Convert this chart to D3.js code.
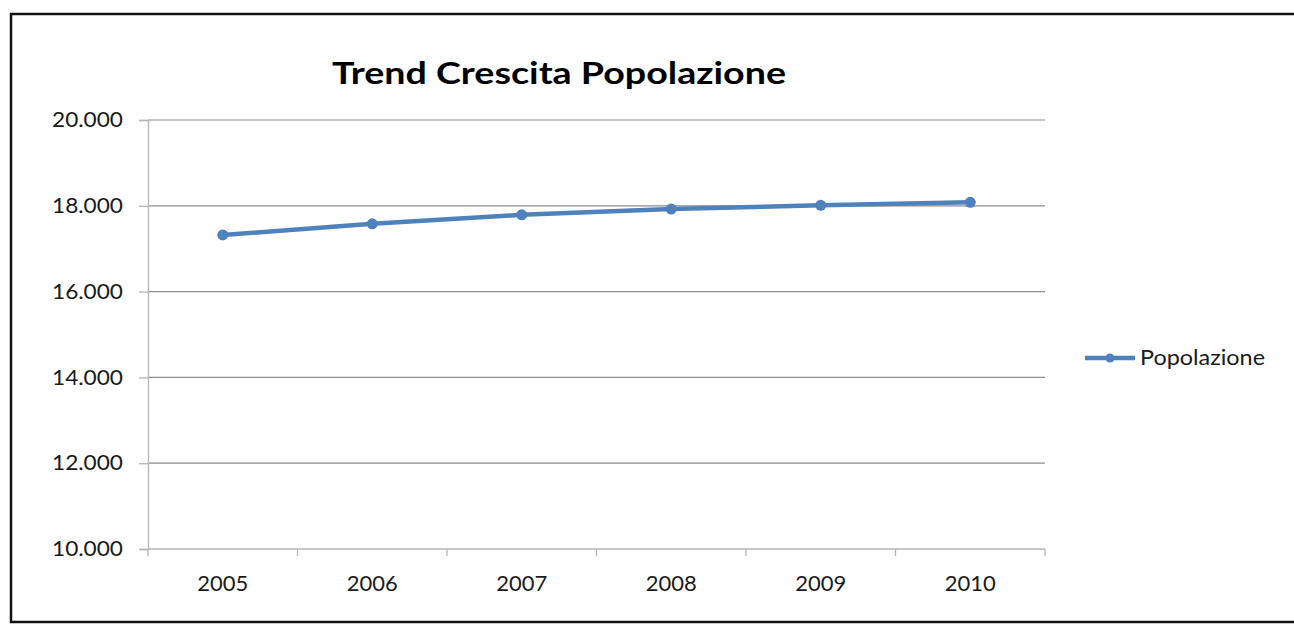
<!DOCTYPE html>
<html>
<head>
<meta charset="utf-8">
<script src="https://cdn.jsdelivr.net/npm/d3@7"></script>
<style>
  html, body { margin: 0; padding: 0; background: #fff; }
  svg { display: block; }
  text { font-family: Lato, "Open Sans", sans-serif; }
</style>
</head>
<body>
<svg id="chart" width="1294" height="624"></svg>
<script>
// Population by year
const years = ["2005", "2006", "2007", "2008", "2009", "2010"];
const population = [17320, 17580, 17790, 17925, 18010, 18080];
const yTicks = [10000, 12000, 14000, 16000, 18000, 20000];
const seriesName = "Popolazione";
const titleText = "Trend Crescita Popolazione";

const svg = d3.select("#chart");
const W = 1294, H = 624;
const plot = { left: 148, right: 1045, top: 120, bottom: 549 };
const lineColor = "#4F81BD";

// outer frame
svg.append("rect")
  .attr("x", 11).attr("y", 14)
  .attr("width", W + 10).attr("height", 608)
  .attr("fill", "#fff").attr("stroke", "#111").attr("stroke-width", 2.5);

const x = d3.scaleBand().domain(years).range([plot.left, plot.right]).paddingInner(0).paddingOuter(0);
const y = d3.scaleLinear().domain([10000, 20000]).range([plot.bottom, plot.top]);

const fmt = v => d3.format(",")(v).replace(/,/g, ".");

// horizontal gridlines
svg.append("g")
  .selectAll("line")
  .data(yTicks.filter(t => t !== 10000))
  .join("line")
  .attr("x1", plot.left).attr("x2", plot.right)
  .attr("y1", d => y(d)).attr("y2", d => y(d))
  .attr("stroke", "#8c8c8c").attr("stroke-width", 1.2);

// y axis
const yAxis = svg.append("g")
  .attr("transform", `translate(${plot.left},0)`)
  .call(d3.axisLeft(y).tickValues(yTicks).tickFormat(fmt).tickSize(9).tickPadding(16));
yAxis.select(".domain").attr("stroke", "#b5b5b5").attr("stroke-width", 1.3);
yAxis.selectAll(".tick line").attr("stroke", "#b5b5b5").attr("stroke-width", 1.3);
yAxis.selectAll(".tick text")
  .attr("fill", "#1a1a1a").style("font-size", "21px")
  .attr("textLength", 71).attr("lengthAdjust", "spacingAndGlyphs");

// x axis with tick marks at band edges
const xAxis = svg.append("g")
  .attr("transform", `translate(0,${plot.bottom})`);
xAxis.append("line")
  .attr("x1", plot.left).attr("x2", plot.right)
  .attr("stroke", "#b5b5b5").attr("stroke-width", 1.3);
const edges = years.map(d => x(d)).concat([x(years[years.length - 1]) + x.bandwidth()]);
xAxis.selectAll("line.tk")
  .data(edges)
  .join("line").attr("class", "tk")
  .attr("x1", d => d).attr("x2", d => d)
  .attr("y1", 0).attr("y2", 7)
  .attr("stroke", "#b5b5b5").attr("stroke-width", 1.3);
xAxis.selectAll("text")
  .data(years)
  .join("text")
  .attr("x", d => x(d) + x.bandwidth() / 2)
  .attr("y", 42)
  .attr("text-anchor", "middle")
  .attr("fill", "#1a1a1a")
  .style("font-size", "21px")
  .attr("textLength", 51).attr("lengthAdjust", "spacingAndGlyphs")
  .text(d => d);

// series line
const pts = years.map((d, i) => [x(d) + x.bandwidth() / 2, y(population[i])]);
svg.append("path")
  .attr("d", d3.line()(pts))
  .attr("fill", "none")
  .attr("stroke", lineColor)
  .attr("stroke-width", 4.5)
  .attr("stroke-linejoin", "round");
svg.append("g")
  .selectAll("circle")
  .data(pts)
  .join("circle")
  .attr("cx", d => d[0]).attr("cy", d => d[1])
  .attr("r", 5.5)
  .attr("fill", lineColor);

// title
svg.append("text")
  .attr("x", 559).attr("y", 84)
  .attr("text-anchor", "middle")
  .attr("fill", "#000")
  .style("font-size", "30px")
  .style("font-weight", "bold")
  .attr("textLength", 454).attr("lengthAdjust", "spacingAndGlyphs")
  .text(titleText);

// legend
const lg = svg.append("g").attr("transform", "translate(1085,358)");
lg.append("line").attr("x1", 0).attr("x2", 50).attr("y1", 0).attr("y2", 0)
  .attr("stroke", lineColor).attr("stroke-width", 4.5);
lg.append("circle").attr("cx", 25).attr("cy", 0).attr("r", 4.5).attr("fill", lineColor);
lg.append("text").attr("x", 55).attr("y", 7)
  .attr("fill", "#1a1a1a").style("font-size", "21px")
  .attr("textLength", 125).attr("lengthAdjust", "spacingAndGlyphs")
  .text(seriesName);
</script>
</body>
</html>
